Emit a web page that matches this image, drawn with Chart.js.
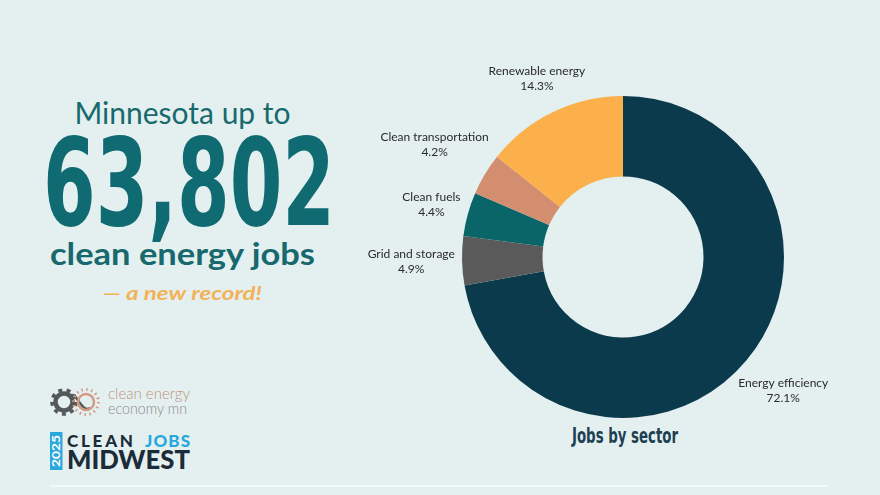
<!DOCTYPE html>
<html>
<head>
<meta charset="utf-8">
<script src="https://cdn.jsdelivr.net/npm/chart.js@4.4.1/dist/chart.umd.min.js"></script>
<style>
  html, body { margin:0; padding:0; }
  body { width:880px; height:495px; background:#e4f0f0; position:relative; overflow:hidden; font-family: Lato, "Noto Sans", sans-serif; }
  #chartWrap { position:absolute; left:0; top:0; width:880px; height:495px; }
  #deco { position:absolute; left:0; top:0; }
</style>
</head>
<body>
<svg id="deco" width="880" height="495" xmlns="http://www.w3.org/2000/svg">
  <text x="182.5" y="123.5" text-anchor="middle" font-family="Lato" font-size="30" fill="#17696e">Minnesota up to</text>
  <text x="43" y="225" font-family="'Liberation Sans Narrow', 'DejaVu Sans Condensed', sans-serif" font-weight="700" font-size="121" fill="#0f6a71" textLength="292" lengthAdjust="spacingAndGlyphs">63,802</text>
  <text x="182.5" y="264.5" text-anchor="middle" font-family="Lato" font-weight="700" font-size="30" fill="#17696e" textLength="265" lengthAdjust="spacingAndGlyphs">clean energy jobs</text>
  <text x="182.5" y="300" text-anchor="middle" font-family="Lato" font-weight="700" font-style="italic" font-size="19" fill="#f2b25a" textLength="159" lengthAdjust="spacingAndGlyphs">— a new record!</text>

  <!-- logo: gear + sun -->
  <g>
    <circle cx="64" cy="402" r="8.5" fill="none" stroke="#55595b" stroke-width="4.5"/>
    <circle cx="64" cy="402" r="12" fill="none" stroke="#55595b" stroke-width="3.5" stroke-dasharray="4 4.4"/>
    <path d="M70 396 C 76 390, 82 414, 90 408" fill="none" stroke="#55595b" stroke-width="2.5"/>
    <circle cx="86" cy="402" r="8" fill="none" stroke="#d39c82" stroke-width="2.5"/>
    <circle cx="86" cy="402" r="12.5" fill="none" stroke="#d39c82" stroke-width="3" stroke-dasharray="1.5 3.4"/>
  </g>
  <text x="108" y="398.5" font-family="Lato" font-weight="300" font-size="15" fill="#c0917b" textLength="82" lengthAdjust="spacingAndGlyphs">clean energy</text>
  <text x="108" y="413.5" font-family="Lato" font-weight="300" font-size="15" fill="#8d8987" textLength="79" lengthAdjust="spacingAndGlyphs">economy mn</text>

  <rect x="50" y="432" width="12.5" height="38" fill="#2aa8de"/>
  <text transform="translate(59.8,451) rotate(-90)" text-anchor="middle" font-family="Lato" font-weight="700" font-size="10.5" fill="#ffffff" textLength="32" lengthAdjust="spacingAndGlyphs">2025</text>
  <text x="67" y="447" font-family="Lato" font-weight="900" font-size="17" fill="#1b2b38" textLength="66" lengthAdjust="spacing">CLEAN</text>
  <text x="145" y="447" font-family="Lato" font-weight="900" font-size="17" fill="#2aa8de" textLength="45" lengthAdjust="spacing">JOBS</text>
  <text x="67" y="469" font-family="Lato" font-weight="900" font-size="26" fill="#1b2b38" textLength="123" lengthAdjust="spacingAndGlyphs">MIDWEST</text>

  <text x="572" y="443" font-family="'Liberation Sans Narrow', 'DejaVu Sans Condensed', sans-serif" font-weight="700" font-size="21" fill="#1d3f52" textLength="106" lengthAdjust="spacingAndGlyphs">Jobs by sector</text>

  <line x1="50" y1="486" x2="829" y2="486" stroke="#f1f8f8" stroke-width="2"/>
</svg>
<div id="chartWrap"><canvas id="c" width="880" height="495"></canvas></div>
<script>
const sectors = ["Energy efficiency", "Grid and storage", "Clean fuels", "Clean transportation", "Renewable energy"];
const shares = [72.1, 4.9, 4.4, 4.2, 14.3];
const sliceColors = ["#0b3a4d", "#5a5a5a", "#0a6569", "#d38e6f", "#fbb04b"];

const outLabels = {
  id: 'outLabels',
  afterDatasetsDraw(chart) {
    const ctx = chart.ctx;
    const meta = chart.getDatasetMeta(0);
    ctx.save();
    ctx.font = '12px Lato';
    ctx.fillStyle = '#2a2a2a';
    ctx.textAlign = 'center';
    ctx.textBaseline = 'middle';
    meta.data.forEach((arc, i) => {
      const p = arc.getProps(['x', 'y', 'startAngle', 'endAngle', 'outerRadius'], true);
      const mid = (p.startAngle + p.endAngle) / 2;
      const l1 = sectors[i];
      const l2 = shares[i].toFixed(1) + '%';
      const hw = Math.max(ctx.measureText(l1).width, ctx.measureText(l2).width) / 2;
      const r = p.outerRadius + 7 + hw * Math.abs(Math.cos(mid)) + 10 * Math.abs(Math.sin(mid));
      const cx = p.x + r * Math.cos(mid);
      const cy = p.y + r * Math.sin(mid);
      ctx.fillText(l1, cx, cy - 7.5);
      ctx.fillText(l2, cx, cy + 7.5);
    });
    ctx.restore();
  }
};

function build() {
  new Chart(document.getElementById('c'), {
    type: 'doughnut',
    data: {
      labels: sectors,
      datasets: [{
        data: shares,
        backgroundColor: sliceColors,
        borderWidth: 0,
        radius: 161,
        cutout: '50%'
      }]
    },
    options: {
      responsive: false,
      animation: false,
      layout: { padding: { left: 366, top: 19, right: 0, bottom: 0 } },
      plugins: {
        legend: { display: false },
        tooltip: { enabled: false },
        title: { display: false }
      }
    },
    plugins: [outLabels]
  });
}
if (document.fonts && document.fonts.load) {
  Promise.all([document.fonts.load('12px Lato'), document.fonts.load('700 30px Lato')]).then(build, build);
} else { build(); }
</script>
</body>
</html>
